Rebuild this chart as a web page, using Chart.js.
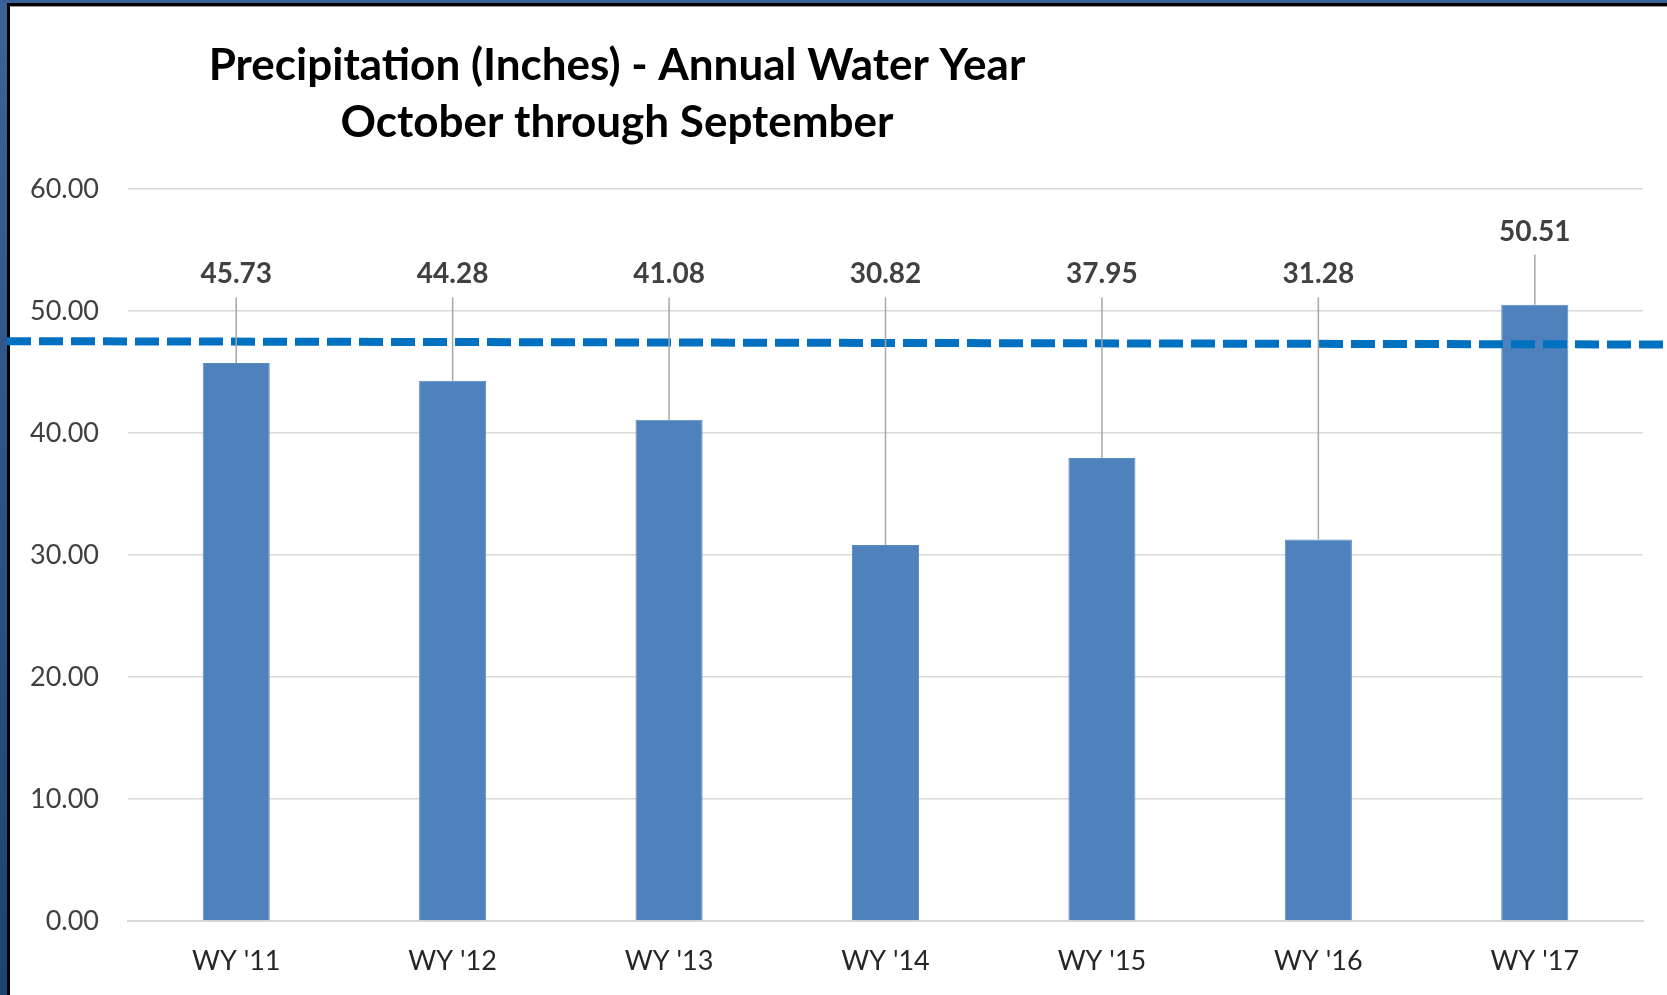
<!DOCTYPE html>
<html>
<head>
<meta charset="utf-8">
<script src="https://cdn.jsdelivr.net/npm/chart.js@4.4.0/dist/chart.umd.min.js"></script>
<style>
  html, body { margin: 0; padding: 0; width: 1667px; height: 995px; overflow: hidden; background: #fff; }
  .edge { position: absolute; }
  #blueLeft { left: 0; top: 0; width: 7px; height: 995px; background: linear-gradient(#3d6299, #1d4470); }
  #blueTop { left: 0; top: 0; width: 1667px; height: 3px; background: #3b6098; }
  #blackTop { left: 7px; top: 3px; width: 1660px; height: 3px; background: #000; border-bottom: 1px solid #9a9a9a; }
  #blackLeft { left: 7px; top: 3px; width: 3px; height: 992px; background: #000; }
  #wrap { position: absolute; left: 0; top: 0; width: 1667px; height: 995px; }
</style>
</head>
<body>
<div class="edge" id="blueLeft"></div>
<div class="edge" id="blueTop"></div>
<div class="edge" id="blackTop"></div>
<div class="edge" id="blackLeft"></div>
<div id="wrap"><canvas id="chart"></canvas></div>
<script>
"use strict";

const categories = ["WY '11", "WY '12", "WY '13", "WY '14", "WY '15", "WY '16", "WY '17"];
const precipitation = [45.73, 44.28, 41.08, 30.82, 37.95, 31.28, 50.51];
const yTicks = [0, 10, 20, 30, 40, 50, 60];
// hand-drawn dashed reference line: value at its left end and at its right end
const normalLine = [47.53, 47.25];
const titleLines = ['Precipitation (Inches) - Annual Water Year', 'October through September'];

const overlay = {
    id: 'overlay',
    afterDatasetsDraw(chart) {
        const ctx = chart.ctx;
        const y = chart.scales.y;

        // dashed line across the whole picture
        ctx.save();
        ctx.strokeStyle = '#0070C0';
        ctx.lineWidth = 8;
        ctx.setLineDash([24, 8]);
        ctx.beginPath();
        ctx.moveTo(7, y.getPixelForValue(normalLine[0]));
        ctx.lineTo(chart.width, y.getPixelForValue(normalLine[1]));
        ctx.stroke();
        ctx.restore();

        // value labels with leader lines
        const meta = chart.getDatasetMeta(0);
        ctx.save();
        ctx.font = 'bold 28px Lato';
        ctx.fillStyle = '#404040';
        ctx.textAlign = 'center';
        ctx.textBaseline = 'middle';
        meta.data.forEach(function(bar, i) {
            const v = precipitation[i];
            const ly = y.getPixelForValue(Math.max(53, v + 6));
            ctx.strokeStyle = '#a6a6a6';
            ctx.lineWidth = 1.5;
            ctx.beginPath();
            ctx.moveTo(bar.x, ly + 23);
            ctx.lineTo(bar.x, bar.y);
            ctx.stroke();
            ctx.fillText(v.toFixed(2), bar.x, ly);
        });
        ctx.restore();
    },
    afterDraw(chart) {
        const ctx = chart.ctx;
        ctx.save();
        ctx.font = 'bold 44px Lato';
        ctx.fillStyle = '#000';
        ctx.textAlign = 'center';
        ctx.textBaseline = 'middle';
        ctx.fillText(titleLines[0], 617, 66);
        ctx.fillText(titleLines[1], 617, 123);
        ctx.restore();
    }
};

new Chart(document.getElementById('chart'), {
    type: 'bar',
    data: {
        labels: categories,
        datasets: [{
            label: 'Precipitation',
            data: precipitation,
            backgroundColor: '#4F81BD',
            borderColor: '#5b8ac3',
            borderWidth: 1,
            barPercentage: 0.31,
            categoryPercentage: 1
        }]
    },
    options: {
        responsive: true,
        maintainAspectRatio: false,
        animation: false,
        layout: {
            padding: { left: 0, top: 189, right: 24, bottom: 19 }
        },
        plugins: {
            legend: { display: false },
            tooltip: { enabled: false }
        },
        scales: {
            x: {
                afterFit: function(scale) { scale.height = 55; },
                grid: { display: false, drawTicks: false },
                border: { color: '#d9d9d9', width: 2 },
                ticks: { color: '#262626', padding: 24, font: { family: 'Lato', size: 27 } }
            },
            y: {
                min: 0,
                max: 60,
                afterBuildTicks: function(scale) {
                    scale.ticks = yTicks.map(function(v) { return { value: v }; });
                },
                afterFit: function(scale) { scale.width = 128; },
                grid: { color: '#d9d9d9', lineWidth: 1.5, drawTicks: false },
                border: { display: false },
                ticks: {
                    color: '#404040',
                    padding: 29,
                    font: { family: 'Lato', size: 27 },
                    callback: function(v) { return Number(v).toFixed(2); }
                }
            }
        }
    },
    plugins: [overlay]
});
</script>
</body>
</html>
